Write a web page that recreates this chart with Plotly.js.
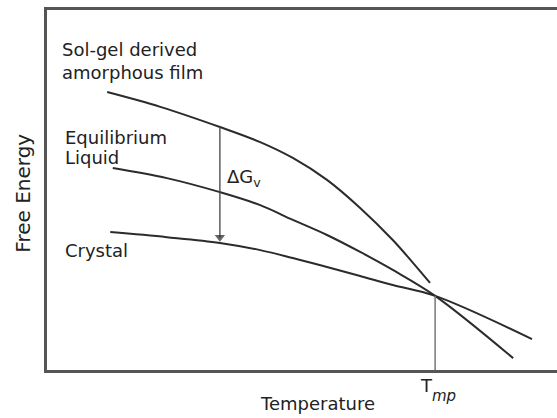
<!DOCTYPE html>
<html>
<head>
<meta charset="utf-8">
<script src="https://cdn.plot.ly/plotly-3.0.1.min.js"></script>
<style>
  html, body { margin: 0; padding: 0; background: #fff; }
  #chart { width: 557px; height: 418px; }
</style>
</head>
<body>
<div id="chart"></div>
<script>
// Temperature (arbitrary units) and free energy (arbitrary units)
const tempAmorphous = [11.8, 22.2, 33.9, 41.8, 48.2, 54.9, 61.4, 67.8, 71.8, 75.1];
const gAmorphous    = [77.2, 73.1, 67.5, 63.3, 58.9, 52.8, 45.0, 36.1, 29.7, 24.2];

const tempLiquid = [12.9, 23.5, 33.9, 41.8, 48.2, 54.9, 61.4, 67.8, 76.1, 91.4];
const gLiquid    = [56.1, 53.3, 49.4, 45.8, 41.7, 37.5, 32.8, 27.8, 20.6, 3.3];

const tempCrystal = [12.4, 23.5, 33.9, 41.8, 48.2, 54.9, 61.4, 67.8, 76.1, 95.1];
const gCrystal    = [38.3, 36.9, 35.3, 33.3, 31.1, 28.6, 26.1, 23.6, 20.6, 8.6];

const tMelt = 76.1;          // T_mp
const gAtMelt = 20.6;        // free energy where liquid and crystal meet
const dGvTemp = 33.9;        // temperature where ΔGv is shown
const dGvTop = 67.5;         // amorphous film free energy there
const dGvBottom = 36.9;      // arrowhead centre just above the crystal curve

const lineStyle = {color: '#2b2b2b', width: 2, shape: 'spline', smoothing: 1};
const FONT = 'DejaVu Sans, Arial, sans-serif';

const traces = [
  {x: tempAmorphous, y: gAmorphous, mode: 'lines', line: lineStyle, name: 'Sol-gel derived amorphous film'},
  {x: tempLiquid, y: gLiquid, mode: 'lines', line: lineStyle, name: 'Equilibrium Liquid'},
  {x: tempCrystal, y: gCrystal, mode: 'lines', line: lineStyle, name: 'Crystal'},
  {x: [tMelt, tMelt], y: [0, gAtMelt], mode: 'lines', line: {color: '#777', width: 1.5}, name: 'T_mp'},
  {x: [dGvTemp, dGvTemp], y: [dGvTop, dGvBottom], mode: 'lines+markers', name: 'ΔGv',
   line: {color: '#444', width: 1.3},
   marker: {symbol: ['circle', 'triangle-down'], size: [0, 9], color: '#222', line: {width: 0}}}
];

const txt = {family: FONT, size: 18, color: '#222'};

const annotations = [
  {x: 2.55, y: 89.0, xref: 'x', yref: 'y', text: 'Sol-gel derived', showarrow: false, xanchor: 'left', yanchor: 'middle', font: txt},
  {x: 2.55, y: 82.6, xref: 'x', yref: 'y', text: 'amorphous film', showarrow: false, xanchor: 'left', yanchor: 'middle', font: txt},
  {x: 3.1, y: 64.6, xref: 'x', yref: 'y', text: 'Equilibrium', showarrow: false, xanchor: 'left', yanchor: 'middle', font: txt},
  {x: 3.1, y: 59.0, xref: 'x', yref: 'y', text: 'Liquid', showarrow: false, xanchor: 'left', yanchor: 'middle', font: txt},
  {x: 3.1, y: 33.1, xref: 'x', yref: 'y', text: 'Crystal', showarrow: false, xanchor: 'left', yanchor: 'middle', font: txt},
  {x: 34.9, y: 53.2, xref: 'x', yref: 'y', text: 'ΔG<sub>v</sub>', showarrow: false, xanchor: 'left', yanchor: 'middle', font: txt},
  {x: 0.531, y: -0.093, xref: 'paper', yref: 'paper', text: 'Temperature', showarrow: false, xanchor: 'center', yanchor: 'middle', font: txt},
  {x: 0.727, y: -0.056, xref: 'paper', yref: 'paper', text: 'T<sub><span style="font-size:15px;font-style:italic;baseline-shift:-5px">mp</span></sub>', showarrow: false, xanchor: 'left', yanchor: 'middle', font: txt},
  {x: -0.047, y: 0.49, xref: 'paper', yref: 'paper', text: 'Free Energy', showarrow: false, textangle: -90, xanchor: 'center', yanchor: 'middle', font: {family: FONT, size: 20, color: '#222'}}
];

const axisBase = {
  range: [0, 100], showgrid: false, zeroline: false, showticklabels: false, ticks: '',
  showline: true, linewidth: 3, linecolor: '#555', fixedrange: true
};

const layout = {
  width: 557, height: 418,
  margin: {l: 47, r: 0, t: 10, b: 48},
  paper_bgcolor: '#fff', plot_bgcolor: '#fff',
  showlegend: false,
  xaxis: Object.assign({}, axisBase, {mirror: true}),
  yaxis: Object.assign({}, axisBase, {mirror: false}),
  annotations: annotations
};

Plotly.newPlot('chart', traces, layout, {staticPlot: true, displayModeBar: false});
</script>
</body>
</html>
